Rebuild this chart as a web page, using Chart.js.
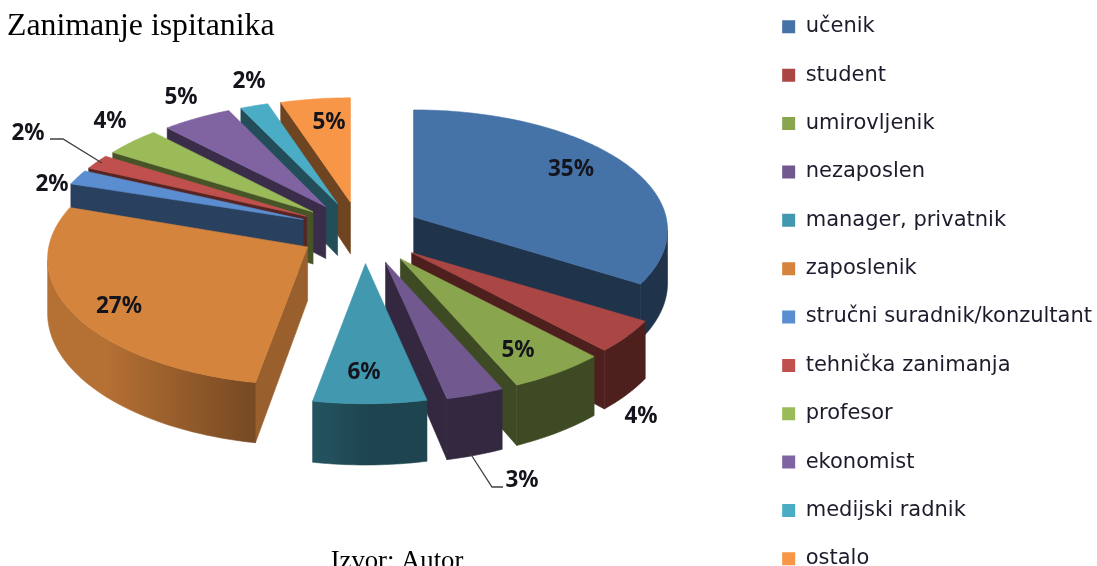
<!DOCTYPE html>
<html>
<head>
<meta charset="utf-8">
<script src="https://cdn.jsdelivr.net/npm/chart.js@4"></script>
<style>
html,body{margin:0;padding:0;background:#fff;width:1097px;height:566px;overflow:hidden}
canvas{display:block;margin-top:-11px}
</style>
</head>
<body>
<canvas id="c" width="1102" height="650"></canvas>
<script>
const titleText = 'Zanimanje ispitanika';
const sourceText = 'Izvor: Autor';
const categories = ['učenik','student','umirovljenik','nezaposlen','manager, privatnik','zaposlenik','stručni suradnik/konzultant','tehnička zanimanja','profesor','ekonomist','medijski radnik','ostalo'];
const shares = [35,4,5,3,6,27,2,2,4,5,2,5];
const topColors = ['#4572a7','#aa4643','#89a54e','#71588f','#4198af','#d5843d','#5b8ed0','#c0504d','#9bbb59','#8064a2','#4bacc6','#f79646'];
const radialShade = [.45,.45,.45,.45,.45,.72,.45,.45,.45,.45,.45,.45];
const labelCenters = [[571,170],[641,417],[518,351],[522,481],[364,373],[119,307],[52,185],[28,134],[110,122],[181,98],[249,82],[329,123]];
const leaderLines = [[[50,139],[63,139],[102,163]],[[470,453],[492,487],[503,487]]];

const SHIFT = 11;
const DEG = Math.PI/180;
const VIEW = {cx:360, cy:230+SHIFT, rx:255, ry:121.5, persp:.109, depth:53, explodeX:.239, explodeY:.237};
function bump(t){const d=(t/DEG-140)/45;return Math.exp(-d*d);}
function bump2(t){const d=(t/DEG-125)/30;return Math.exp(-d*d);}
function project(p,down){
  const v=p.ay+p.vl, k=1/(1+VIEW.persp*v);
  return [VIEW.cx+VIEW.rx*(p.ax+p.ul*k), VIEW.cy-VIEW.ry*v*k+(p.dy||0)+(down?VIEW.depth*k:0)];
}
function rgb(hex){return [1,3,5].map(i=>parseInt(hex.substr(i,2),16));}
function shade(hex,f){return 'rgb('+rgb(hex).map(c=>Math.round(c*f)).join(',')+')';}
function poly(ctx,pts,col){
  ctx.fillStyle=col;ctx.strokeStyle=col;ctx.lineWidth=.6;ctx.lineJoin='round';
  ctx.beginPath();pts.forEach((q,j)=>{j?ctx.lineTo(q[0],q[1]):ctx.moveTo(q[0],q[1]);});ctx.closePath();ctx.fill();ctx.stroke();
}
const outerShade = t => .45+.4*Math.min(1,Math.max(0,-Math.sin(t)*1.4));
const pie3d = {
  id:'pie3d',
  beforeDatasetDraw(chart){
    const ctx = chart.ctx, arcs = chart.getDatasetMeta(0).data;
    const slices = arcs.map((arc,i)=>{
      const s = arc.startAngle+Math.PI/2, e = arc.endAngle+Math.PI/2, m=(s+e)/2;
      return {i,s,e,m,col:arc.options.backgroundColor};
    }).sort((a,b)=>Math.cos(b.m)-Math.cos(a.m));
    ctx.save();
    slices.forEach(sl=>{
      const ax = VIEW.explodeX*Math.sin(sl.m-11.4*DEG*bump(sl.m)), ay = VIEW.explodeY*Math.cos(sl.m);
      const n = Math.max(2,Math.ceil((sl.e-sl.s)/DEG));
      const path=[{ax,ay,ul:0,vl:0,t:null,dy:4*Math.max(0,-Math.cos(sl.m))}];
      for(let j=0;j<=n;j++){
        const t=sl.s+(sl.e-sl.s)*j/n, w=t-DEG*(1.5*bump(t)+2.5*bump2(t));
        path.push({ax,ay,ul:Math.sin(w),vl:Math.cos(w),t});
      }
      // radial walls
      [[path[0],path[1]],[path[path.length-1],path[0]]].forEach(([P,Q])=>{
        const a=project(P),b=project(Q);
        if(b[0]-a[0]<0) poly(ctx,[a,b,project(Q,true),project(P,true)],shade(sl.col,radialShade[sl.i]));
      });
      // curved outer wall: one polygon, shaded with a gradient
      const vis=[];
      for(let j=1;j<path.length-1;j++){
        if(project(path[j+1])[0]-project(path[j])[0]<0){
          if(!vis.length) vis.push(path[j]);
          vis.push(path[j+1]);
        }
      }
      if(vis.length>1){
        const x0=project(vis[0])[0],x1=project(vis[vis.length-1])[0];
        const g=ctx.createLinearGradient(x0,0,x1,0);
        vis.forEach(p=>g.addColorStop(Math.min(1,Math.max(0,(project(p)[0]-x0)/(x1-x0))),shade(sl.col,outerShade(p.t))));
        const pts=vis.map(p=>project(p)).concat(vis.slice().reverse().map(p=>project(p,true)));
        poly(ctx,pts,g);
      }
      poly(ctx,path.map(p=>project(p)),sl.col);
    });
    ctx.restore();
    return false;
  },
  afterDatasetsDraw(chart){
    const ctx=chart.ctx;
    ctx.save();
    ctx.strokeStyle='#404040';ctx.lineWidth=1.3;
    leaderLines.forEach(l=>{ctx.beginPath();l.forEach((p,j)=>{j?ctx.lineTo(p[0],p[1]+SHIFT):ctx.moveTo(p[0],p[1]+SHIFT);});ctx.stroke();});
    ctx.fillStyle='#14141c';ctx.font='bold 22.5px "Noto Sans"';ctx.textAlign='center';ctx.textBaseline='middle';
    shares.forEach((v,i)=>ctx.fillText(v+'%',labelCenters[i][0],labelCenters[i][1]+SHIFT));
    ctx.fillStyle='#000';ctx.font='26.7px "Liberation Serif"';ctx.textAlign='center';ctx.textBaseline='alphabetic';
    ctx.fillText(sourceText,397,569+SHIFT);
    ctx.restore();
  }
};
new Chart(document.getElementById('c'),{
  type:'pie',
  data:{labels:categories,datasets:[{data:shares,backgroundColor:topColors,borderWidth:0}]},
  plugins:[pie3d],
  options:{
    responsive:false,animation:false,
    layout:{padding:{left:7}},
    plugins:{
      tooltip:{enabled:false},
      title:{display:true,text:titleText,align:'start',color:'#000',font:{family:'"Liberation Serif"',size:31.8,weight:'normal'},padding:{top:19,bottom:10}},
      legend:{position:'right',align:'start',labels:{boxWidth:13,boxHeight:13,padding:27.36,color:'#1c1c2c',font:{family:'"DejaVu Sans"',size:21}}}
    }
  }
});
</script>
</body>
</html>
